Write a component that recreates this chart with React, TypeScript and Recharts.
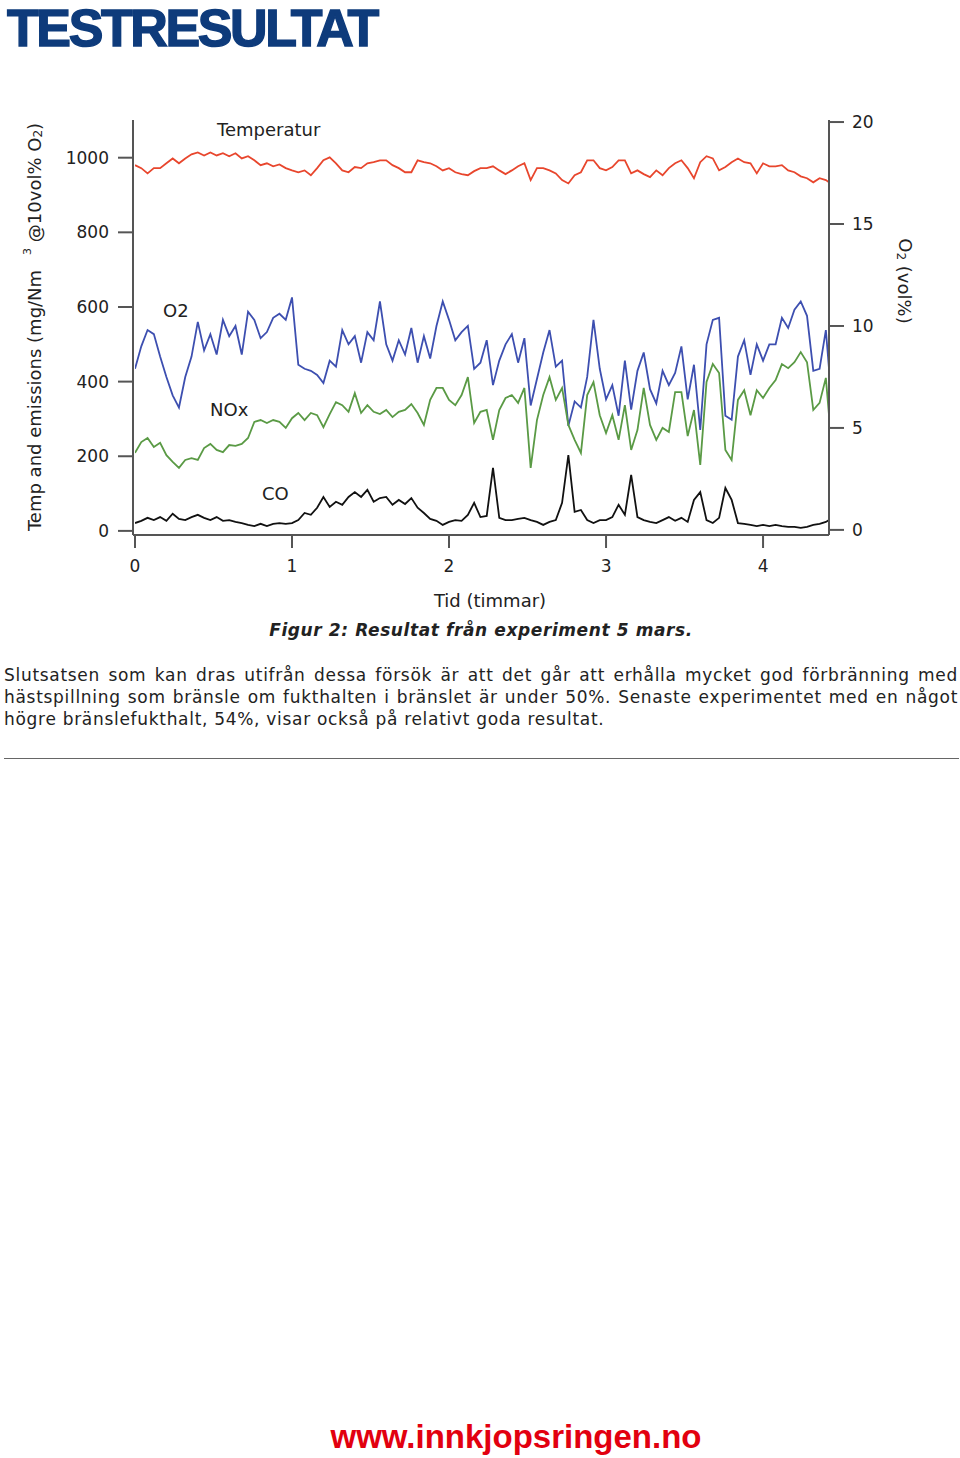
import React from 'react';
import { LineChart, Line, XAxis, YAxis } from 'recharts';

// time axis in hours, read every ~0.04 h
const hours = [
  0, 0.04, 0.08, 0.12, 0.16, 0.2, 0.24, 0.28, 0.32, 0.36,
  0.4, 0.44, 0.48, 0.52, 0.56, 0.6, 0.64, 0.68, 0.72, 0.76,
  0.8, 0.84, 0.88, 0.92, 0.96, 1, 1.04, 1.08, 1.12, 1.16,
  1.2, 1.24, 1.28, 1.32, 1.36, 1.4, 1.44, 1.48, 1.52, 1.56,
  1.6, 1.64, 1.68, 1.72, 1.76, 1.8, 1.84, 1.88, 1.92, 1.96,
  2, 2.04, 2.08, 2.12, 2.16, 2.2, 2.24, 2.28, 2.32, 2.36,
  2.4, 2.44, 2.48, 2.52, 2.56, 2.6, 2.64, 2.68, 2.72, 2.76,
  2.8, 2.84, 2.88, 2.92, 2.96, 3, 3.04, 3.08, 3.12, 3.16,
  3.2, 3.24, 3.28, 3.32, 3.36, 3.4, 3.44, 3.48, 3.52, 3.56,
  3.6, 3.64, 3.68, 3.72, 3.76, 3.8, 3.84, 3.88, 3.92, 3.96,
  4, 4.04, 4.08, 4.12, 4.16, 4.2, 4.24, 4.28, 4.32, 4.36,
  4.4, 4.42,
];

// Temperatur (left axis)
const temperature = [
  980, 972, 958, 972, 972, 985, 998, 985, 998, 1009,
  1014, 1006, 1014, 1006, 1012, 1004, 1012, 998, 1004, 993,
  980, 985, 977, 982, 972, 966, 961, 966, 953, 972,
  993, 1001, 985, 966, 961, 975, 972, 985, 988, 993,
  993, 980, 972, 961, 961, 993, 988, 985, 977, 966,
  972, 961, 956, 953, 964, 972, 972, 977, 966, 956,
  966, 977, 985, 940, 972, 972, 966, 958, 940, 931,
  953, 961, 993, 993, 972, 966, 975, 993, 993, 958,
  966, 956, 948, 966, 953, 972, 985, 993, 972, 945,
  988, 1004, 998, 966, 975, 988, 998, 988, 985, 958,
  985, 977, 977, 980, 966, 961, 950, 945, 934, 945,
  940, 934,
];

// O2 in vol% (right axis)
const oxygen = [
  7.9, 9.0, 9.8, 9.6, 8.5, 7.5, 6.6, 6.0, 7.5, 8.5,
  10.2, 8.8, 9.6, 8.6, 10.3, 9.5, 10.0, 8.6, 10.7, 10.3,
  9.4, 9.7, 10.4, 10.6, 10.3, 11.4, 8.1, 7.9, 7.8, 7.6,
  7.2, 8.3, 8.0, 9.8, 9.1, 9.5, 8.2, 9.7, 9.3, 11.2,
  9.1, 8.3, 9.3, 8.6, 9.9, 8.2, 9.5, 8.4, 10.0, 11.2,
  10.3, 9.3, 9.7, 10.0, 7.9, 8.2, 9.3, 7.1, 8.3, 9.1,
  9.6, 8.2, 9.4, 6.1, 7.4, 8.7, 9.8, 8.0, 8.3, 5.1,
  6.3, 6.0, 7.5, 10.3, 7.9, 6.4, 7.1, 5.6, 8.3, 5.9,
  7.8, 8.7, 6.9, 6.2, 7.8, 7.1, 7.7, 9.0, 6.4, 8.1,
  4.9, 9.1, 10.3, 10.4, 5.6, 5.4, 8.5, 9.3, 7.6, 9.1,
  8.3, 9.1, 9.1, 10.4, 9.9, 10.8, 11.2, 10.5, 7.8, 7.9,
  9.8, 7.9,
];

// NOx (left axis)
const nox = [
  209, 238, 249, 225, 236, 203, 185, 169, 190, 195,
  190, 222, 233, 217, 211, 230, 228, 233, 249, 292,
  297, 289, 297, 292, 276, 302, 316, 297, 316, 310,
  278, 313, 345, 337, 319, 369, 316, 337, 319, 313,
  324, 305, 319, 324, 340, 316, 284, 351, 383, 383,
  351, 337, 364, 412, 289, 319, 324, 244, 324, 356,
  364, 343, 383, 169, 297, 364, 412, 351, 383, 284,
  244, 209, 364, 399, 310, 262, 310, 244, 337, 217,
  270, 383, 284, 244, 276, 265, 372, 372, 254, 324,
  177, 399, 447, 423, 217, 190, 351, 377, 310, 377,
  356, 383, 404, 447, 436, 452, 479, 452, 324, 343,
  410, 310,
];

// CO (left axis)
const co = [
  21, 27, 35, 29, 37, 27, 46, 32, 29, 37,
  43, 35, 29, 37, 27, 29, 24, 21, 16, 13,
  19, 13, 19, 21, 19, 21, 29, 48, 43, 62,
  91, 64, 78, 70, 91, 104, 91, 110, 78, 88,
  91, 70, 83, 72, 88, 62, 48, 32, 27, 16,
  24, 29, 27, 43, 75, 37, 40, 169, 35, 29,
  29, 32, 35, 29, 24, 16, 24, 29, 75, 203,
  51, 56, 29, 21, 29, 29, 37, 70, 43, 150,
  37, 29, 24, 21, 29, 37, 27, 35, 24, 83,
  104, 29, 21, 35, 115, 83, 21, 19, 16, 13,
  16, 13, 16, 13, 11, 11, 8, 11, 16, 19,
  24, 29,
];

const leftTicks = [0, 200, 400, 600, 800, 1000];
const rightTicks = [0, 5, 10, 15, 20];
const hourTicks = [0, 1, 2, 3, 4];

const data = hours.map((t, i) => ({
  t,
  temp: temperature[i],
  o2: oxygen[i],
  nox: nox[i],
  co: co[i],
}));

const FONT = '"DejaVu Sans", Verdana, sans-serif';
const AXIS = '#555';
const INK = '#222';

const tickStyle = { fill: INK, fontSize: 17, fontFamily: FONT };
const axisLine = { stroke: AXIS, strokeWidth: 2 };

const leftTitle = () => (
  <text
    x={34}
    y={327}
    transform="rotate(-90 34 327)"
    textAnchor="middle"
    dominantBaseline="central"
    fontFamily={FONT}
    fontSize={18}
    fill={INK}
  >
    Temp and emissions (mg/Nm
    <tspan dx={15} dy={-7} fontSize={11}>3</tspan>
    <tspan dy={7}> @10vol% O</tspan>
    <tspan dy={4} fontSize={12}>2</tspan>
    <tspan dy={-4}>)</tspan>
  </text>
);

const rightTitle = () => (
  <text
    x={905}
    y={281}
    transform="rotate(90 905 281)"
    textAnchor="middle"
    dominantBaseline="central"
    fontFamily={FONT}
    fontSize={18}
    fill={INK}
  >
    O<tspan dy={4} fontSize={12}>2</tspan>
    <tspan dy={-4}> (vol%)</tspan>
  </text>
);

const xTitle = () => (
  <text x={490} y={600} textAnchor="middle" dominantBaseline="central" fontFamily={FONT} fontSize={18} fill={INK}>
    Tid (timmar)
  </text>
);

const seriesLabel = (text: string, left: number, top: number) => (
  <span
    style={{
      position: 'absolute',
      left,
      top,
      fontFamily: FONT,
      fontSize: 18,
      lineHeight: '20px',
      color: INK,
      whiteSpace: 'nowrap',
    }}
  >
    {text}
  </span>
);

const Emissions: React.FC = () => (
  <LineChart width={960} height={620} data={data} margin={{ top: 120, right: 71, bottom: 55, left: 73 }}>
    <XAxis
      dataKey="t"
      type="number"
      domain={[0, 4.42]}
      ticks={hourTicks}
      padding={{ left: 2, right: 0 }}
      allowDataOverflow
      height={30}
      tick={tickStyle}
      tickSize={13}
      tickMargin={12}
      axisLine={axisLine}
      tickLine={axisLine}
      label={{ content: xTitle }}
    />
    <YAxis
      yAxisId="left"
      orientation="left"
      width={60}
      domain={[-11, 1101]}
      ticks={leftTicks}
      allowDataOverflow
      tick={tickStyle}
      tickSize={15}
      tickMargin={9}
      axisLine={axisLine}
      tickLine={axisLine}
      label={{ content: leftTitle }}
    />
    <YAxis
      yAxisId="right"
      orientation="right"
      width={60}
      domain={[-0.25, 20.1]}
      ticks={rightTicks}
      allowDataOverflow
      tick={tickStyle}
      tickSize={15}
      tickMargin={8}
      axisLine={axisLine}
      tickLine={axisLine}
      label={{ content: rightTitle }}
    />
    <Line yAxisId="left" dataKey="temp" type="linear" stroke="#e8462d" strokeWidth={1.8} dot={false} isAnimationActive={false} />
    <Line yAxisId="right" dataKey="o2" type="linear" stroke="#3d4fb0" strokeWidth={1.8} dot={false} isAnimationActive={false} />
    <Line yAxisId="left" dataKey="nox" type="linear" stroke="#5a9a45" strokeWidth={1.8} dot={false} isAnimationActive={false} />
    <Line yAxisId="left" dataKey="co" type="linear" stroke="#111" strokeWidth={1.8} dot={false} isAnimationActive={false} />
  </LineChart>
);

const paraLine = (text: string, top: number, justify: boolean) => (
  <div
    style={{
      position: 'absolute',
      left: 4,
      width: 954,
      top,
      fontFamily: FONT,
      fontSize: 17,
      letterSpacing: 0.7,
      lineHeight: '22px',
      color: INK,
      textAlign: justify ? 'justify' : 'left',
      textAlignLast: justify ? 'justify' : 'left',
      whiteSpace: 'nowrap',
    }}
  >
    {text}
  </div>
);

export default function App() {
  return (
    <div style={{ position: 'absolute', left: 0, top: 0, width: 960, height: 1458, background: '#fff', overflow: 'hidden' }}>
      <div
        style={{
          position: 'absolute',
          left: 7,
          top: 2,
          fontFamily: '"Liberation Sans", Arial, sans-serif',
          fontWeight: 700,
          fontSize: 52,
          lineHeight: '52px',
          letterSpacing: -2.4,
          color: '#0e3b7b',
          WebkitTextStroke: '1.4px #0e3b7b',
          whiteSpace: 'nowrap',
        }}
      >
        TESTRESULTAT
      </div>

      <div style={{ position: 'absolute', left: 0, top: 0 }}>
        <Emissions />
      </div>

      {seriesLabel('Temperatur', 217, 120)}
      {seriesLabel('O2', 163, 301)}
      {seriesLabel('NOx', 210, 400)}
      {seriesLabel('CO', 262, 484)}

      <div
        style={{
          position: 'absolute',
          left: 0,
          width: 962,
          top: 619,
          textAlign: 'center',
          fontFamily: FONT,
          fontSize: 17,
          letterSpacing: 0.6,
          fontWeight: 700,
          fontStyle: 'italic',
          lineHeight: '22px',
          color: INK,
        }}
      >
        Figur 2: Resultat från experiment 5 mars.
      </div>

      {paraLine('Slutsatsen som kan dras utifrån dessa försök är att det går att erhålla mycket god förbränning med', 664, true)}
      {paraLine('hästspillning som bränsle om fukthalten i bränslet är under 50%. Senaste experimentet med en något', 686, true)}
      {paraLine('högre bränslefukthalt, 54%, visar också på relativt goda resultat.', 708, false)}

      <div style={{ position: 'absolute', left: 4, width: 955, top: 758, height: 0, borderTop: '1.5px solid #666' }} />

      <div
        style={{
          position: 'absolute',
          left: 0,
          width: 1032,
          top: 1418,
          textAlign: 'center',
          fontFamily: '"Liberation Sans", Arial, sans-serif',
          fontWeight: 700,
          fontSize: 33,
          lineHeight: '38px',
          color: '#e2000f',
        }}
      >
        www.innkjopsringen.no
      </div>
    </div>
  );
}
